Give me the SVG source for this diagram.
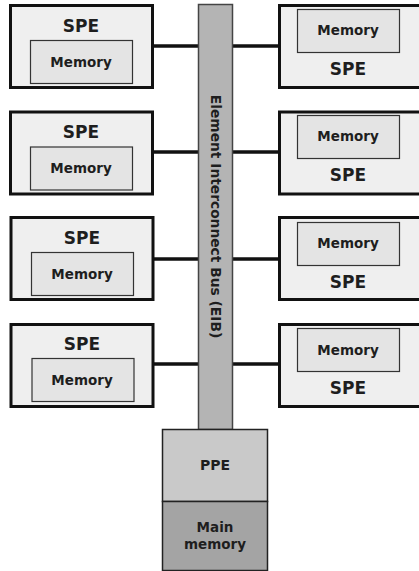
<svg xmlns="http://www.w3.org/2000/svg" width="419" height="571" viewBox="0 0 419 571">
<style>
.spe{fill:#efefef;stroke:#111;stroke-width:3}
.mem{fill:#e4e4e4;stroke:#333;stroke-width:1.2}
.t{font-family:"DejaVu Sans","Liberation Sans",Arial,sans-serif;font-weight:bold;fill:#1e1e1e;text-anchor:middle}
.big{font-size:17px}
.sm{font-size:13.5px}
.con{stroke:#111;stroke-width:3.5;fill:none}
</style>
<rect width="419" height="571" fill="#fff"/>
<g id="connectors">
<line class="con" x1="154" y1="46" x2="199" y2="46"/>
<line class="con" x1="154" y1="152" x2="199" y2="152"/>
<line class="con" x1="154" y1="259" x2="199" y2="259"/>
<line class="con" x1="154" y1="364" x2="199" y2="364"/>
<line class="con" x1="232" y1="46" x2="279" y2="46"/>
<line class="con" x1="232" y1="152" x2="279" y2="152"/>
<line class="con" x1="232" y1="259" x2="279" y2="259"/>
<line class="con" x1="232" y1="364" x2="279" y2="364"/>
</g>
<g id="bus">
<rect x="198.5" y="4.5" width="34" height="425" fill="#b4b4b4" stroke="#444" stroke-width="1.5"/>
<text class="t" font-size="13.8" transform="translate(210.5,216.5) rotate(90)">Element Interconnect Bus (EIB)</text>
</g>
<g id="spe-l1">
<rect class="spe" x="10.5" y="5.5" width="142" height="82"/>
<rect class="mem" x="30.5" y="40.5" width="102" height="43"/>
<text class="t big" x="81" y="32">SPE</text>
<text class="t sm" x="81" y="67">Memory</text>
</g>
<g id="spe-l2">
<rect class="spe" x="10.5" y="112" width="142" height="82"/>
<rect class="mem" x="30.5" y="147" width="102" height="43"/>
<text class="t big" x="81" y="138">SPE</text>
<text class="t sm" x="81" y="173">Memory</text>
</g>
<g id="spe-l3">
<rect class="spe" x="11" y="217.5" width="142" height="82"/>
<rect class="mem" x="31.5" y="252.5" width="102" height="43"/>
<text class="t big" x="82" y="244">SPE</text>
<text class="t sm" x="82" y="279">Memory</text>
</g>
<g id="spe-l4">
<rect class="spe" x="11" y="324.5" width="142" height="82"/>
<rect class="mem" x="32" y="358.5" width="102" height="43"/>
<text class="t big" x="82" y="350">SPE</text>
<text class="t sm" x="82" y="385">Memory</text>
</g>
<g id="spe-r1">
<rect class="spe" x="279.5" y="5.5" width="142" height="82"/>
<rect class="mem" x="297.5" y="9.5" width="102" height="43"/>
<text class="t sm" x="348" y="35">Memory</text>
<text class="t big" x="348" y="75">SPE</text>
</g>
<g id="spe-r2">
<rect class="spe" x="279.5" y="112" width="142" height="82"/>
<rect class="mem" x="297.5" y="115.5" width="102" height="43"/>
<text class="t sm" x="348" y="141">Memory</text>
<text class="t big" x="348" y="181">SPE</text>
</g>
<g id="spe-r3">
<rect class="spe" x="279.5" y="217.5" width="142" height="82"/>
<rect class="mem" x="297.5" y="222.5" width="102" height="43"/>
<text class="t sm" x="348" y="248">Memory</text>
<text class="t big" x="348" y="288">SPE</text>
</g>
<g id="spe-r4">
<rect class="spe" x="279.5" y="324.5" width="142" height="82"/>
<rect class="mem" x="297.5" y="328.5" width="102" height="43"/>
<text class="t sm" x="348" y="355">Memory</text>
<text class="t big" x="348" y="394">SPE</text>
</g>
<g id="ppe">
<rect x="162.5" y="429.5" width="105" height="72" fill="#c9c9c9" stroke="#222" stroke-width="1.5"/>
<text class="t" font-size="14" x="215" y="470">PPE</text>
</g>
<g id="main-memory">
<rect x="162.5" y="501.5" width="105" height="69" fill="#a4a4a4" stroke="#222" stroke-width="1.5"/>
<text class="t sm" x="215" y="532">Main</text>
<text class="t sm" x="215" y="549">memory</text>
</g>
</svg>
